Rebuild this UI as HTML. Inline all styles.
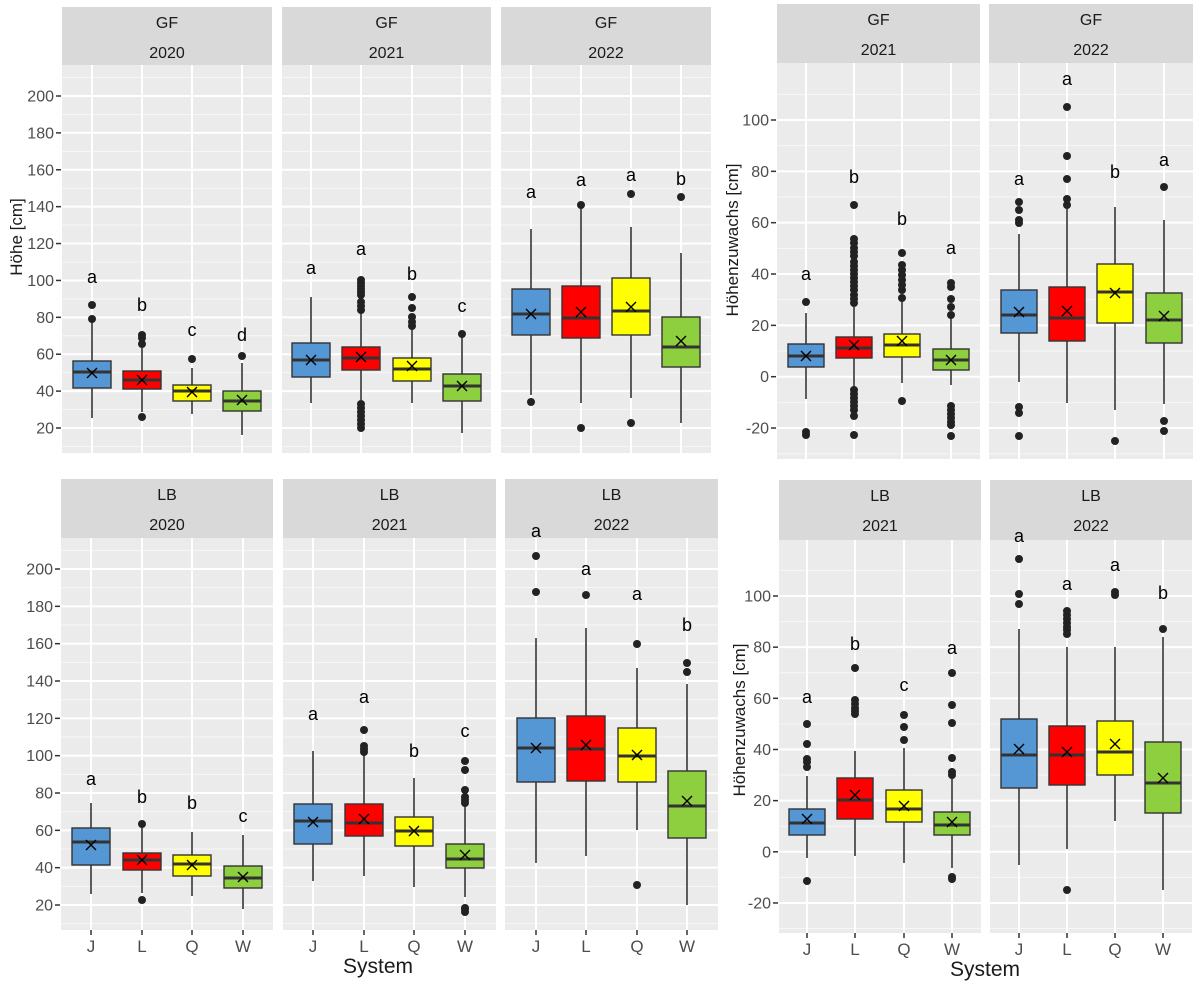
<!DOCTYPE html>
<html><head><meta charset="utf-8"><style>
html,body{margin:0;padding:0;background:#fff;}
svg{display:block;font-family:"Liberation Sans",Arial,sans-serif;}
</style></head><body>
<svg id="s" width="1200" height="983" viewBox="0 0 1200 983" xmlns="http://www.w3.org/2000/svg"></svg>
<script>
const S=document.getElementById('s');let out='';
const cols=['#5497d4','#ff0000','#ffff00','#8ecf40'];
function panel(x0,x1,y0,y1,sy0,top,bot,centers,yf,minors,majors){
  out+=`<rect x="${x0}" y="${sy0}" width="${x1-x0}" height="${y0-sy0}" fill="#d9d9d9"/>`;
  out+=`<text x="${(x0+x1)/2}" y="${sy0+21}" font-size="16" fill="#1a1a1a" text-anchor="middle">${top}</text>`;
  out+=`<text x="${(x0+x1)/2}" y="${sy0+51}" font-size="16" fill="#1a1a1a" text-anchor="middle">${bot}</text>`;
  out+=`<rect x="${x0}" y="${y0}" width="${x1-x0}" height="${y1-y0}" fill="#ebebeb"/>`;
  minors.forEach(v=>{const y=yf(v);if(y>y0&&y<y1)out+=`<line x1="${x0}" x2="${x1}" y1="${y}" y2="${y}" stroke="#f7f7f7" stroke-width="1"/>`;});
  majors.forEach(v=>{const y=yf(v);out+=`<line x1="${x0}" x2="${x1}" y1="${y}" y2="${y}" stroke="#fff" stroke-width="2"/>`;});
  centers.forEach(c=>{out+=`<line x1="${c}" x2="${c}" y1="${y0}" y2="${y1}" stroke="#fff" stroke-width="2"/>`;});
}
function box(cx,hw,d,i){
  const [wTop,bTop,med,bBot,wBot,mean,outs,let_,ly]=d;
  out+=`<line x1="${cx}" x2="${cx}" y1="${wTop}" y2="${wBot}" stroke="#333" stroke-width="1.6"/>`;
  out+=`<rect x="${cx-hw}" y="${bTop}" width="${2*hw}" height="${bBot-bTop}" fill="${cols[i]}" stroke="#333" stroke-width="1.4"/>`;
  out+=`<line x1="${cx-hw}" x2="${cx+hw}" y1="${med}" y2="${med}" stroke="#333" stroke-width="3"/>`;
  out+=`<path d="M${cx-5} ${mean-5}L${cx+5} ${mean+5}M${cx+5} ${mean-5}L${cx-5} ${mean+5}" stroke="#000" stroke-width="1.4"/>`;
  outs.forEach(o=>{out+=`<circle cx="${cx}" cy="${o}" r="4" fill="#222"/>`;});
  out+=`<text x="${cx}" y="${ly+6}" font-size="18" fill="#000" text-anchor="middle">${let_}</text>`;
}
function range(a,b,s){const r=[];for(let v=a;v<=b+1e-9;v+=s)r.push(v);return r;}
function yticks(vals,yf,xr){vals.forEach(v=>{const y=yf(v);
  out+=`<line x1="${xr+2}" x2="${xr+7}" y1="${y}" y2="${y}" stroke="#333" stroke-width="1.5"/>`;
  out+=`<text x="${xr}" y="${y+5.5}" font-size="16" fill="#4d4d4d" text-anchor="end">${v}</text>`;});}
function xticks(centers,y){centers.forEach((c,i)=>{
  out+=`<line x1="${c}" x2="${c}" y1="${y}" y2="${y+5}" stroke="#333" stroke-width="1.5"/>`;
  out+=`<text x="${c}" y="${y+22}" font-size="17" fill="#4d4d4d" text-anchor="middle">${'JLQW'[i]}</text>`;});}

const yTL=v=>96+(200-v)*1.8444;
const TLp=[[62,272],[282,491],[501,711]];
const TLc=[[92,142,192,242],[311,361,412,462],[531,581,631,681]];
const TLl=['2020','2021','2022'];
TLp.forEach((p,k)=>panel(p[0],p[1],65,453,7,'GF',TLl[k],TLc[k],yTL,range(10,210,20),range(20,200,20)));
yticks(range(20,200,20),yTL,54);
const TLd=[
 [[318,361,372,388,418,373,[305,319],'a',277],[341,371,380,389,412,380,[335,338,344,417],'b',305],[368,385,391,401,414,392,[359],'c',330],[363,391,401,411,435,400,[356],'d',335]],
 [[297,343,360,377,403,360,[],'a',268],[312,347,358,370,400,357,[280,283,286,289,292,295,302,306,310,404,408,412,416,420,424,428],'a',249],[327,358,369,381,403,366,[297,308,317,322,326],'b',274],[333,374,386,401,433,386,[334],'c',306]],
 [[229,289,314,335,395,314,[402],'a',192],[205,286,318,338,403,312,[205,428],'a',180],[227,278,311,335,398,307,[194,423],'a',175],[253,317,347,367,423,341,[197],'b',179]]
];
TLd.forEach((pd,k)=>pd.forEach((d,i)=>box(TLc[k][i],19,d,i)));
out+=`<text transform="translate(22,237) rotate(-90)" font-size="17" fill="#1a1a1a" text-anchor="middle">Höhe [cm]</text>`;

const yTR=v=>120+(100-v)*2.567;
const TRp=[[777,980],[989,1193]];
const TRc=[[806,854,902,951],[1019,1067,1115,1164]];
TRp.forEach((p,k)=>panel(p[0],p[1],63,459,4,'GF',['2021','2022'][k],TRc[k],yTR,range(-30,110,20),range(-20,100,20)));
yticks(range(-20,100,20),yTR,769);
const TRd=[
 [[313,344,356,367,399,356,[302,432,435],'a',274],[307,337,348,358,389,345,[205,239,243,248,252,256,262,266,270,274,278,282,286,290,295,299,303,390,394,398,402,406,410,416,435],'b',177],[298,334,345,357,383,341,[253,265,270,275,280,285,290,298,401],'b',219],[315,349,360,370,385,360,[283,287,299,307,315,406,410,414,418,422,425,436],'a',248]],
 [[234,290,315,333,382,312,[202,210,220,223,407,413,436],'a',179],[200,287,318,341,403,311,[107,156,179,199,205],'a',79],[207,264,292,323,410,293,[441],'b',172],[220,293,320,343,404,316,[187,421,431],'a',160]]
];
TRd.forEach((pd,k)=>pd.forEach((d,i)=>box(TRc[k][i],18,d,i)));
out+=`<text transform="translate(738,240) rotate(-90)" font-size="17" fill="#1a1a1a" text-anchor="middle">Höhenzuwachs [cm]</text>`;

const yBL=v=>569+(200-v)*1.8667;
const BLp=[[61,273],[283,496],[505,718]];
const BLc=[[91,142,192,243],[313,364,414,465],[536,586,637,687]];
BLp.forEach((p,k)=>panel(p[0],p[1],538,930,479,'LB',TLl[k],BLc[k],yBL,range(10,210,20),range(20,200,20)));
yticks(range(20,200,20),yBL,53);
const BLd=[
 [[803,828,842,865,894,845,[],'a',779],[825,853,860,870,893,860,[824,900],'b',797],[832,855,864,876,896,865,[],'b',803],[835,866,878,888,909,877,[],'c',816]],
 [[751,804,821,844,881,822,[],'a',714],[754,804,823,836,876,819,[730,746,749,752],'a',697],[778,817,831,846,887,831,[],'b',751],[795,844,859,868,897,855,[761,770,790,797,800,803,908,909,912],'c',731]],
 [[638,718,748,782,863,748,[556,592],'a',531],[628,716,749,781,856,745,[595],'a',569],[668,728,756,782,830,755,[644,885],'a',594],[684,771,806,838,905,801,[663,672],'b',625]]
];
BLd.forEach((pd,k)=>pd.forEach((d,i)=>box(BLc[k][i],19,d,i)));
BLc.forEach(c=>xticks(c,930));
out+=`<text x="378" y="973" font-size="21" fill="#1a1a1a" text-anchor="middle">System</text>`;

const yBR=v=>596+(100-v)*2.558;
const BRp=[[779,981],[990,1192]];
const BRc=[[807,855,904,952],[1019,1067,1115,1163]];
BRp.forEach((p,k)=>panel(p[0],p[1],540,933,480,'LB',['2021','2022'][k],BRc[k],yBR,range(-30,110,20),range(-20,100,20)));
yticks(range(-20,100,20),yBR,771);
const BRd=[
 [[776,809,823,835,858,819,[724,744,759,762,767,881],'a',697],[751,778,800,819,856,795,[668,700,704,708,711,714],'b',644],[748,790,809,822,863,806,[715,727,740],'c',685],[772,812,825,835,868,822,[673,705,723,758,772,775,877,879],'a',648]],
 [[629,719,755,788,865,749,[559,594,604],'a',536],[647,726,755,785,849,752,[611,615,619,623,627,630,634,890],'a',584],[647,721,752,775,821,744,[592,595],'a',565],[637,742,783,813,890,778,[629],'b',593]]
];
BRd.forEach((pd,k)=>pd.forEach((d,i)=>box(BRc[k][i],18,d,i)));
BRc.forEach(c=>xticks(c,933));
out+=`<text x="985" y="976" font-size="21" fill="#1a1a1a" text-anchor="middle">System</text>`;
out+=`<text transform="translate(745,720) rotate(-90)" font-size="17" fill="#1a1a1a" text-anchor="middle">Höhenzuwachs [cm]</text>`;
S.innerHTML=out;
</script>
</body></html>
